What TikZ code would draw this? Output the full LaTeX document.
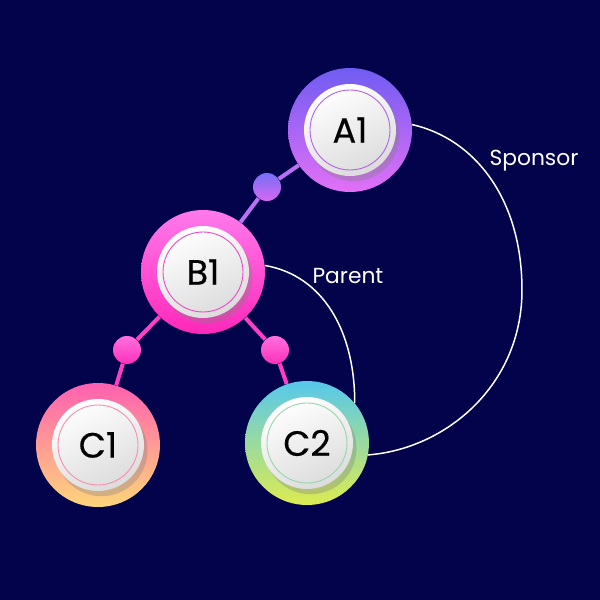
\documentclass[tikz,border=0pt]{standalone}
\usepackage{fontspec}
\setmainfont{Poppins}
\newfontfamily\labelfont{Poppins}[FakeBold=0.4]
\usetikzlibrary{shadows}
\definecolor{night}{RGB}{2,3,74}
\definecolor{a1top}{RGB}{112,92,242}
\definecolor{a1bot}{RGB}{226,112,246}
\definecolor{a1ring}{RGB}{176,96,238}
\definecolor{b1top}{RGB}{255,122,236}
\definecolor{b1bot}{RGB}{255,40,186}
\definecolor{b1ring}{RGB}{236,70,200}
\definecolor{c1top}{RGB}{255,96,176}
\definecolor{c1bot}{RGB}{255,214,122}
\definecolor{c1ring}{RGB}{250,140,170}
\definecolor{c2top}{RGB}{86,200,236}
\definecolor{c2bot}{RGB}{222,236,80}
\definecolor{c2ring}{RGB}{150,214,170}
\definecolor{lilac}{RGB}{186,112,245}
\definecolor{rose}{RGB}{255,62,200}
\definecolor{d1top}{RGB}{120,110,246}
\definecolor{d1bot}{RGB}{214,104,242}
\definecolor{d2top}{RGB}{255,112,222}
\definecolor{d2bot}{RGB}{255,48,188}
\pgfdeclarelayer{background}
\pgfdeclarelayer{links}
\pgfsetlayers{background,links,main}
\tikzset{
  member/.style 2 args={circle,inner sep=0pt,minimum size=2.48cm,
    top color=#1,bottom color=#2,draw=none},
  face/.style={circle,inner sep=0pt,minimum size=1.84cm,
    top color=white,bottom color=black!14,shading angle=25,
    drop shadow={opacity=0.35,shadow xshift=2pt,shadow yshift=-3pt}},
  ring/.style={circle,inner sep=0pt,minimum size=1.6cm,draw=#1,line width=0.5pt,
    font=\labelfont\fontsize{20}{20}\selectfont,text=black},
  knot/.style 2 args={circle,inner sep=0pt,minimum size=0.56cm,
    top color=#1,bottom color=#2,draw=none},
  link/.style={draw=#1,line width=2.3pt},
  bond/.style={draw=white,line width=0.85pt},
  tag/.style={text=white,font=\fontsize{12.4}{12.4}\selectfont},
}

\begin{document}
\begin{tikzpicture}[x=0.02cm,y=0.02cm]
  \begin{pgfonlayer}{background}
    \fill[night] (0,0) rectangle (600,600);
  \end{pgfonlayer}
  \useasboundingbox (0,0) rectangle (600,600);
  % members
  \foreach \n/\x/\y/\ct/\cb/\cr in {
    A1/350/470/a1top/a1bot/a1ring,
    B1/203/328/b1top/b1bot/b1ring,
    C1/98/155/c1top/c1bot/c1ring,
    C2/307/157/c2top/c2bot/c2ring}
  {
    \node[member={\ct}{\cb}] (\n) at (\x,\y) {};
    \node[face] (\n face) at (\n) {};
    \node[ring=\cr] (\n ring) at (\n) {\n};
  }
  % joints
  \node[knot={d1top}{d1bot}] (AB) at (267,413) {};
  \node[knot={d2top}{d2bot}] (BC1) at (127,250) {};
  \node[knot={d2top}{d2bot}] (BC2) at (275,250) {};
  \begin{pgfonlayer}{links}
    \draw[link=lilac] (A1) -- (AB) -- (B1);
    \draw[link=rose] (B1) -- (BC1) -- (C1);
    \draw[link=rose] (B1) -- (BC2) -- (C2);
  \end{pgfonlayer}
  % relations
  \coordinate (bend) at (522,310);
  \draw[bond] (A1.5) .. controls +(62,-14) and +(0,92) .. (bend)
    .. controls +(0,-95) and +(78,6) .. (C2.-11);
  \draw[bond] (B1.6) .. controls +(58,-10) and +(0,72) .. (C2.40);
  \node[tag] (sponsor) at (534,439) {Sponsor};
  \node[tag] (parent) at (348,324) {Parent};
\end{tikzpicture}
\end{document}
